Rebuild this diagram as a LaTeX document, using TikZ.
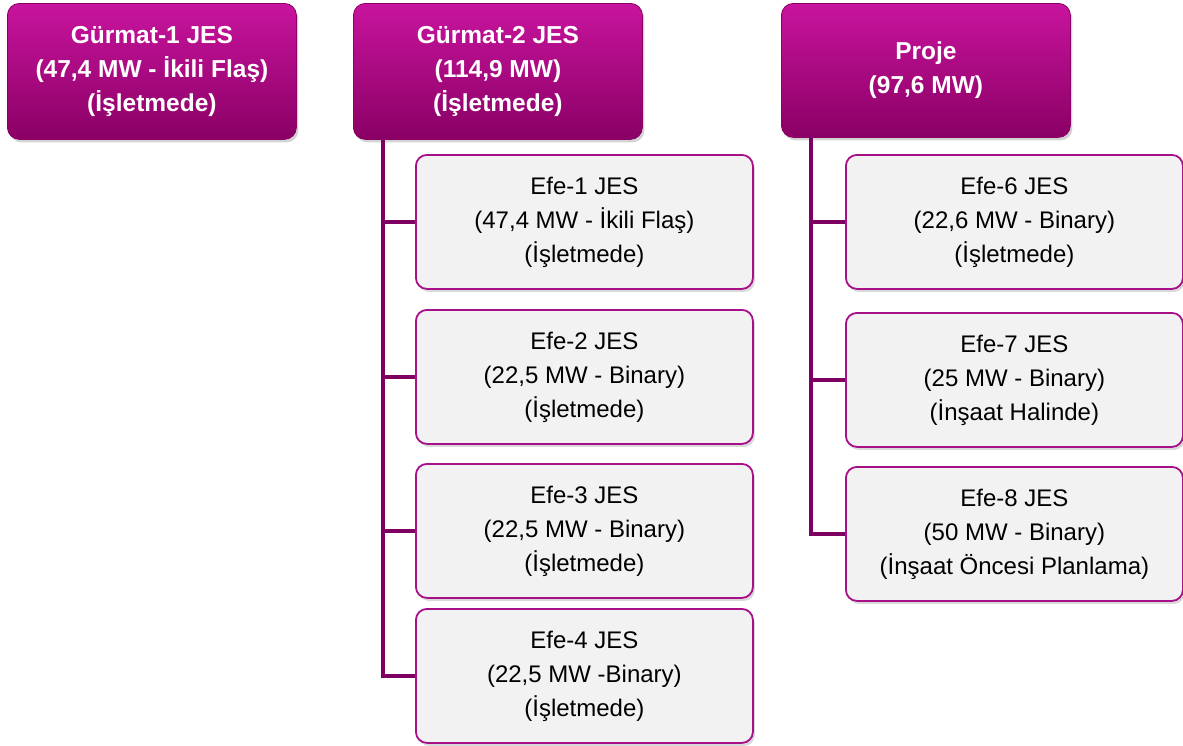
\documentclass[tikz,border=0pt]{standalone}
\usepackage{fontspec}
\setmainfont{Liberation Sans}
\usepackage{xcolor}
\usetikzlibrary{positioning}
\usetikzlibrary{shadows}
\definecolor{magtop}{HTML}{C8149E}
\definecolor{magbot}{HTML}{8A0064}
\definecolor{magline}{HTML}{7E0062}
\definecolor{magborder}{HTML}{A8108A}
\definecolor{boxfill}{HTML}{F2F2F2}
\tikzset{headbox/.style={draw=magbot, line width=0.8pt, rounded corners=12pt,
top color=magtop, bottom color=magbot, text=white, align=center,
minimum width=289pt, minimum height=136pt, anchor=north west,
font=\fontsize{24.5}{34}\selectfont\bfseries,
drop shadow={opacity=0.35, shadow xshift=2pt, shadow yshift=-3pt}},
subbox/.style={draw=magborder, line width=1.8pt, rounded corners=11pt,
fill=boxfill, text=black, align=center,
minimum width=337pt, minimum height=134pt, anchor=north west,
font=\fontsize{24}{34}\selectfont,
drop shadow={opacity=0.3, shadow xshift=2pt, shadow yshift=-3pt}},
link/.style={draw=magline, line width=4.5pt}}
\begin{document}
\begin{tikzpicture}[x=1pt, y=-1pt]
\useasboundingbox (0,0) rectangle (1183,745);
% top row
\node[headbox] (g1) at (7,3) {Gürmat-1 JES\\(47,4 MW - İkili Flaş)\\(İşletmede)};
\node[headbox] (g2) at (353,3) {Gürmat-2 JES\\(114,9 MW)\\(İşletmede)};
\node[headbox, minimum height=134pt] (pr) at (781,3) {Proje\\(97,6 MW)};
% connectors
\coordinate (g2l) at (383,140);
\coordinate (prl) at (811,137);
% children of Gürmat-2
\node[subbox] (e1) at (415,154) {Efe-1 JES\\(47,4 MW - İkili Flaş)\\(İşletmede)};
\node[subbox] (e2) at (415,309) {Efe-2 JES\\(22,5 MW - Binary)\\(İşletmede)};
\node[subbox] (e3) at (415,463) {Efe-3 JES\\(22,5 MW - Binary)\\(İşletmede)};
\node[subbox] (e4) at (415,608) {Efe-4 JES\\(22,5 MW -Binary)\\(İşletmede)};
% children of Proje
\node[subbox] (e6) at (845,154) {Efe-6 JES\\(22,6 MW - Binary)\\(İşletmede)};
\node[subbox] (e7) at (845,312) {Efe-7 JES\\(25 MW - Binary)\\(İnşaat Halinde)};
\node[subbox] (e8) at (845,466) {Efe-8 JES\\(50 MW - Binary)\\(İnşaat Öncesi Planlama)};
\begin{scope}[on background layer/.try]
\draw[link] (g2l) |- (e4.west);
\foreach \c in {e1,e2,e3} \draw[link] (g2l |- \c.west) -- (\c.west);
\draw[link] (prl) |- (e8.west);
\foreach \c in {e6,e7} \draw[link] (prl |- \c.west) -- (\c.west);
\end{scope}
\end{tikzpicture}
\end{document}
